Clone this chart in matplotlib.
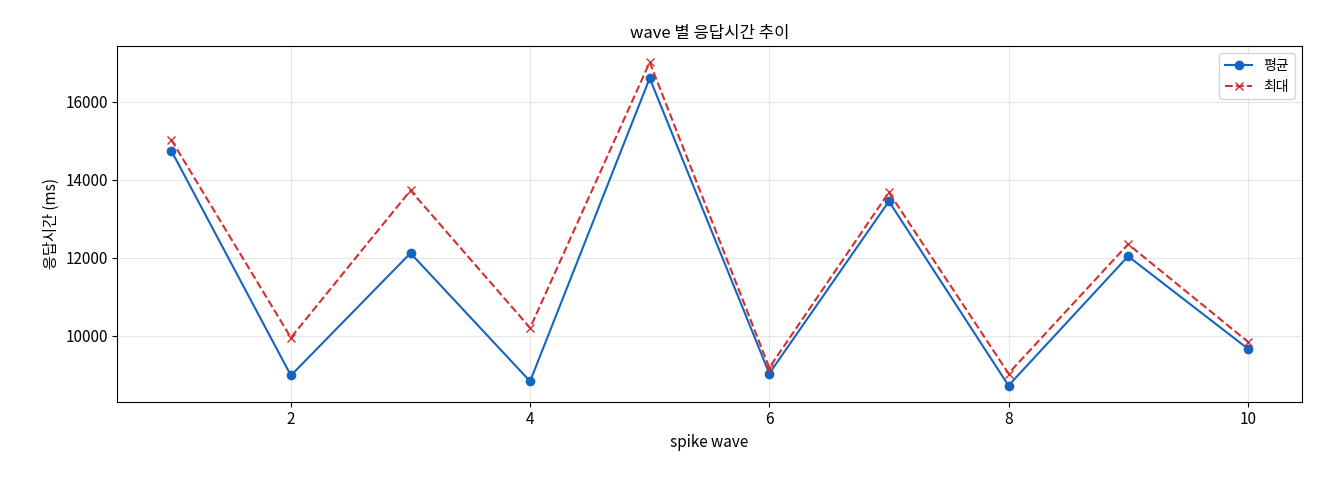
import matplotlib
matplotlib.use("Agg")
import matplotlib.pyplot as plt

plt.rcParams['font.family'] = ['Noto Sans CJK KR', 'DejaVu Sans']

# wave 번호와 응답시간 (ms)
waves = [1, 2, 3, 4, 5, 6, 7, 8, 9, 10]
avg_ms = [14750, 8980, 12120, 8830, 16610, 9030, 13450, 8720, 12040, 9670]
max_ms = [15030, 9950, 13730, 10200, 17020, 9180, 13680, 9030, 12350, 9850]

fig, ax = plt.subplots(figsize=(13.2, 4.8), dpi=100)
ax.plot(waves, avg_ms, "o-", color="#1565c0", label="평균")
ax.plot(waves, max_ms, "x--", color="#d32f2f", label="최대")
ax.set_title("wave 별 응답시간 추이", fontsize=12)
ax.set_xlabel("spike wave", fontsize=11)
ax.set_ylabel("응답시간 (ms)", fontsize=11)
ax.tick_params(labelsize=11)
ax.grid(alpha=0.3)
ax.legend(fontsize=10)
fig.subplots_adjust(left=0.089, right=0.986, top=0.904, bottom=0.163)
fig.savefig("out.png")
